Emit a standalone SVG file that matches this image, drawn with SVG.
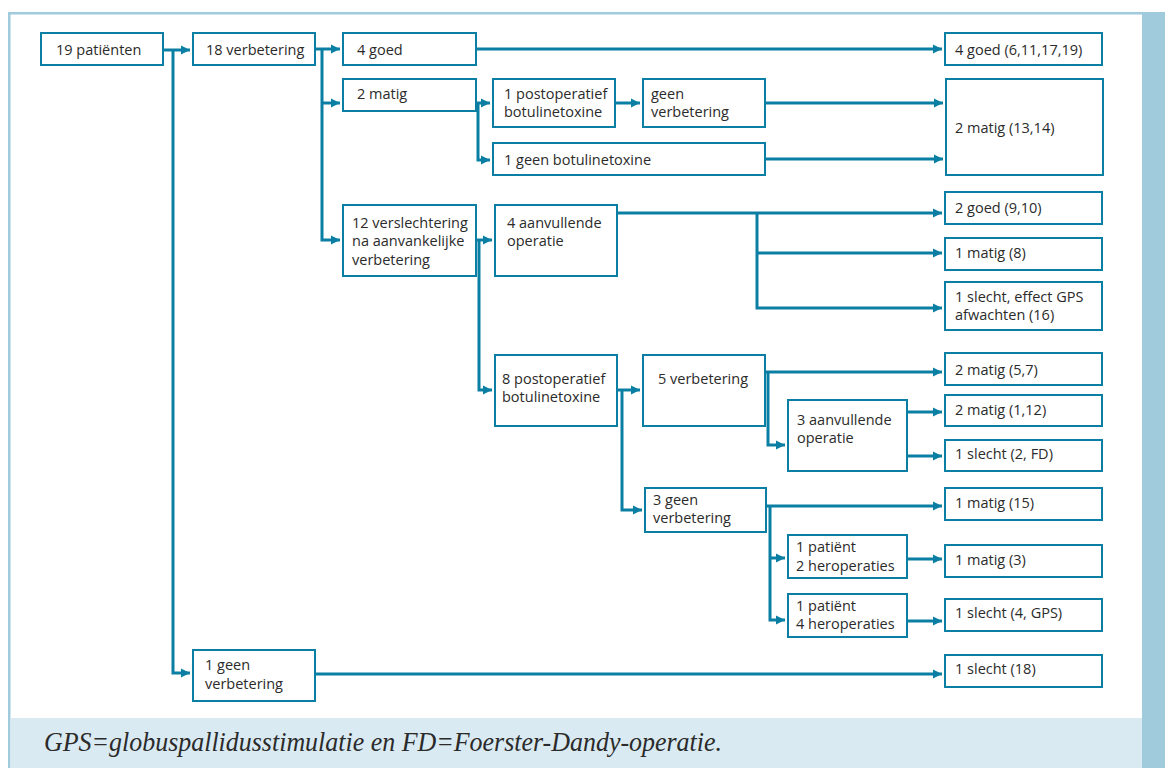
<svg xmlns="http://www.w3.org/2000/svg" width="1165" height="768" viewBox="0 0 1165 768">
<defs>
<marker id="ah" markerUnits="userSpaceOnUse" markerWidth="10" markerHeight="10" refX="9" refY="5" orient="auto">
<path d="M0,0.5 L9,5 L0,9.5 Z" fill="#0b7fa3"/>
</marker>
<style>
.box{fill:#ffffff;stroke:#0b7fa3;stroke-width:2}
.t{font-family:"Open Sans","Liberation Sans",sans-serif;font-size:14.5px;fill:#2b2b2b}
.c{fill:none;stroke:#0b7fa3;stroke-width:3;marker-end:url(#ah)}
.cap{font-family:"Liberation Serif","DejaVu Serif","Times New Roman",serif;font-style:italic;font-size:27px;fill:#2b2b2b}
</style>
</defs>
<rect x="0" y="0" width="1165" height="768" fill="#ffffff"/>
<g id="frame">
<rect x="8" y="12" width="1134" height="2.5" fill="#9fcbdc"/>
<rect x="8" y="12" width="2.5" height="756" fill="#9fcbdc"/>
<rect x="1142" y="12" width="23" height="756" fill="#9fcbdc"/>
<rect x="10.5" y="718" width="1131.5" height="50" fill="#daeaf2"/>
<text class="cap" x="44" y="751" font-family="Liberation Serif, serif" font-style="italic" textLength="678" lengthAdjust="spacingAndGlyphs">GPS=globuspallidusstimulatie en FD=Foerster-Dandy-operatie.</text>
</g>
<g id="connectors">
<path class="c" d="M163,50 H190"/>
<path class="c" d="M173,50 V673 H190"/>
<path class="c" d="M315,49 H340"/>
<path class="c" d="M322,49 V240 H340"/>
<path class="c" d="M322,103 H340"/>
<path class="c" d="M476,49 H942"/>
<path class="c" d="M476,103 H490"/>
<path class="c" d="M478,103 V160 H490"/>
<path class="c" d="M615,103 H640"/>
<path class="c" d="M765,103 H943"/>
<path class="c" d="M765,159 H943"/>
<path class="c" d="M476,240 H492"/>
<path class="c" d="M479,240 V390 H492"/>
<path class="c" d="M617,213 H942"/>
<path class="c" d="M757,213 V308 H942"/>
<path class="c" d="M757,253 H942"/>
<path class="c" d="M617,390 H640"/>
<path class="c" d="M622,390 V510 H642"/>
<path class="c" d="M765,372 H942"/>
<path class="c" d="M768,372 V445 H785"/>
<path class="c" d="M907,412 H942"/>
<path class="c" d="M907,456 H942"/>
<path class="c" d="M766,506 H942"/>
<path class="c" d="M770,506 V620 H785"/>
<path class="c" d="M770,558 H785"/>
<path class="c" d="M907,559 H942"/>
<path class="c" d="M907,621 H942"/>
<path class="c" d="M315,674 H942"/>
</g>
<g id="n1"><rect class="box" x="41" y="33" width="122" height="32"/><text class="t" x="56" y="55">19 patiënten</text></g>
<g id="n2"><rect class="box" x="193" y="33" width="122" height="32"/><text class="t" x="206" y="55">18 verbetering</text></g>
<g id="n3"><rect class="box" x="343" y="33" width="133" height="32"/><text class="t" x="357" y="55">4 goed</text></g>
<g id="n4"><rect class="box" x="343" y="79" width="133" height="32"/><text class="t" x="357" y="99">2 matig</text></g>
<g id="n5"><rect class="box" x="493" y="79" width="122" height="48"/><text class="t" x="504" y="99">1 postoperatief</text><text class="t" x="504" y="117">botulinetoxine</text></g>
<g id="n6"><rect class="box" x="643" y="79" width="122" height="48"/><text class="t" x="651" y="99">geen</text><text class="t" x="651" y="117">verbetering</text></g>
<g id="n7"><rect class="box" x="493" y="143" width="272" height="32"/><text class="t" x="504" y="165">1 geen botulinetoxine</text></g>
<g id="n8"><rect class="box" x="945" y="33" width="157" height="32"/><text class="t" x="955" y="55">4 goed (6,11,17,19)</text></g>
<g id="n9"><rect class="box" x="946" y="79" width="157" height="96"/><text class="t" x="955" y="133">2 matig (13,14)</text></g>
<g id="n10"><rect class="box" x="343" y="205" width="133" height="71"/><text class="t" x="352" y="228">12 verslechtering</text><text class="t" x="352" y="246">na aanvankelijke</text><text class="t" x="352" y="265">verbetering</text></g>
<g id="n11"><rect class="box" x="495" y="205" width="122" height="71"/><text class="t" x="507" y="228">4 aanvullende</text><text class="t" x="507" y="246">operatie</text></g>
<g id="n12"><rect class="box" x="495" y="355" width="122" height="71"/><text class="t" x="502" y="384">8 postoperatief</text><text class="t" x="502" y="402">botulinetoxine</text></g>
<g id="n13"><rect class="box" x="643" y="355" width="122" height="71"/><text class="t" x="658" y="384">5 verbetering</text></g>
<g id="n14"><rect class="box" x="945" y="192" width="157" height="32"/><text class="t" x="955" y="213">2 goed (9,10)</text></g>
<g id="n15"><rect class="box" x="945" y="238" width="157" height="32"/><text class="t" x="955" y="258">1 matig (8)</text></g>
<g id="n16"><rect class="box" x="945" y="282" width="157" height="48"/><text class="t" x="955" y="302">1 slecht, effect GPS</text><text class="t" x="955" y="320">afwachten (16)</text></g>
<g id="n17"><rect class="box" x="945" y="353" width="157" height="32"/><text class="t" x="955" y="375">2 matig (5,7)</text></g>
<g id="n18"><rect class="box" x="788" y="400" width="119" height="71"/><text class="t" x="797" y="425">3 aanvullende</text><text class="t" x="797" y="443">operatie</text></g>
<g id="n19"><rect class="box" x="945" y="395" width="157" height="31"/><text class="t" x="955" y="415">2 matig (1,12)</text></g>
<g id="n20"><rect class="box" x="945" y="440" width="157" height="31"/><text class="t" x="955" y="459">1 slecht (2, FD)</text></g>
<g id="n21"><rect class="box" x="645" y="488" width="121" height="44"/><text class="t" x="653" y="505">3 geen</text><text class="t" x="653" y="523">verbetering</text></g>
<g id="n22"><rect class="box" x="945" y="488" width="157" height="32"/><text class="t" x="955" y="508">1 matig (15)</text></g>
<g id="n23"><rect class="box" x="788" y="535" width="119" height="43"/><text class="t" x="796" y="552">1 patiënt</text><text class="t" x="796" y="571">2 heroperaties</text></g>
<g id="n24"><rect class="box" x="945" y="545" width="157" height="32"/><text class="t" x="955" y="565">1 matig (3)</text></g>
<g id="n25"><rect class="box" x="788" y="594" width="119" height="43"/><text class="t" x="796" y="611">1 patiënt</text><text class="t" x="796" y="629">4 heroperaties</text></g>
<g id="n26"><rect class="box" x="945" y="599" width="157" height="32"/><text class="t" x="955" y="618">1 slecht (4, GPS)</text></g>
<g id="n27"><rect class="box" x="193" y="650" width="122" height="51"/><text class="t" x="205" y="670">1 geen</text><text class="t" x="205" y="689">verbetering</text></g>
<g id="n28"><rect class="box" x="945" y="655" width="157" height="32"/><text class="t" x="955" y="674">1 slecht (18)</text></g>
</svg>
